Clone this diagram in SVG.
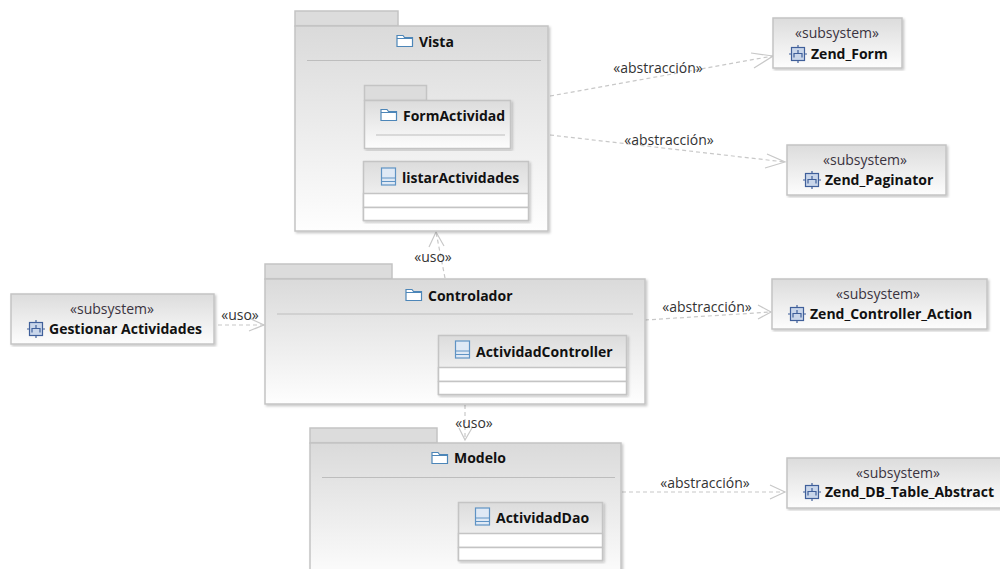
<svg xmlns="http://www.w3.org/2000/svg" width="1000" height="569" viewBox="0 0 1000 569">
<style>
text{font-family:"Open Sans","Noto Sans","Liberation Sans",sans-serif;fill:#111;}
.t{font-size:14px;font-weight:700;text-anchor:start;}
.s{font-size:14px;text-anchor:middle;fill:#3a3340;}
.e{font-size:14px;text-anchor:middle;fill:#333;}
.box{stroke:#c4c4c4;stroke-width:1.5;fill:url(#g);filter:url(#sh);}
.pk{stroke:#c4c4c4;stroke-width:1.5;fill:url(#gp);filter:url(#sh);}
.tab{stroke:#c4c4c4;stroke-width:1.5;fill:#dcdcdc;}
.cell{stroke:#c4c4c4;stroke-width:1.5;fill:#fff;}
.rule{stroke:#bdbdbd;stroke-width:1.2;fill:none;}
.dep{stroke:#c8c8c8;stroke-width:1.2;stroke-dasharray:4 3;fill:none;}
.ah{stroke:#c8c8c8;stroke-width:1.2;fill:none;}
</style>
<defs>
<linearGradient id="g" x1="0" y1="0" x2="0" y2="1"><stop offset="0" stop-color="#dcdcdc"/><stop offset="1" stop-color="#fdfdfd"/></linearGradient>
<linearGradient id="gp" x1="0" y1="0" x2="0" y2="1"><stop offset="0" stop-color="#dadada"/><stop offset="1" stop-color="#fefefe"/></linearGradient>
<filter id="sh" x="-5%" y="-5%" width="110%" height="110%"><feDropShadow dx="1.5" dy="1.5" stdDeviation="0.8" flood-color="#000" flood-opacity="0.22"/></filter>
<symbol id="folder" width="18" height="14" viewBox="0 0 18 14" overflow="visible"><path d="M1 12.500V1.500H7L8.500 3.500H16.500V12.500Z" fill="#fff" stroke="#4d86b8" stroke-width="1.200"/><path d="M1 4.500H16.500" stroke="#4d86b8" stroke-width="1"/></symbol>
<symbol id="cls" width="18" height="20" viewBox="0 0 18 20"><rect x="1.500" y="1" width="14" height="17" fill="#dfe9f5" stroke="#5f93c4" stroke-width="1.200"/><path d="M1.500 11H15.500M1.500 14.500H15.500" stroke="#5f93c4"/></symbol>
<symbol id="sub" width="18" height="18" viewBox="0 0 18 18"><rect x="2.500" y="2.500" width="13" height="13" fill="#c9d6ea" stroke="#3f5f9a" stroke-width="1.200"/><path d="M9 0V2.500M9 15.500V18M0 9H2.500M15.500 9H18" stroke="#3f5f9a" stroke-width="1.200"/><path d="M5 12.500V8.500H13V12.500M9 8.500V5" fill="none" stroke="#3f5f9a" stroke-width="1.200"/></symbol>
</defs>

<g id="connectors">
<path class="dep" d="M550 96L773 56"/><path class="ah" d="M751 53L773 56L754 68"/>
<path class="dep" d="M550 135L785 162"/><path class="ah" d="M767 154L785 162L765 168"/>
<path class="dep" d="M445 278L436 232"/><path class="ah" d="M429 247L436 232L444 246"/>
<path class="dep" d="M218 325L264 325"/><path class="ah" d="M249 318L264 325L249 331"/>
<path class="dep" d="M645 320L771 312"/><path class="ah" d="M758 305L771 312L758 319"/>
<path class="dep" d="M465 405L465 440"/><path class="ah" d="M459 428L465 440L472 428"/>
<path class="dep" d="M622 492L785 492"/><path class="ah" d="M770 485L785 492L770 499"/>
<text class="e" x="658" y="73">«abstracción»</text>
<text class="e" x="669" y="145">«abstracción»</text>
<text class="e" x="433" y="262">«uso»</text>
<text class="e" x="240" y="320">«uso»</text>
<text class="e" x="707" y="312">«abstracción»</text>
<text class="e" x="474" y="428">«uso»</text>
<text class="e" x="705" y="488">«abstracción»</text>
</g>

<g id="vista">
<rect class="tab" x="295" y="11" width="103" height="15"/>
<rect class="pk" x="295" y="26" width="253" height="205"/>
<line class="rule" x1="307" y1="60.500" x2="541" y2="60.500"/>
<use href="#folder" x="396" y="34"/><text class="t" x="419" y="47">Vista</text>
</g>
<g id="formActividad">
<rect class="tab" x="364.500" y="85.500" width="62" height="15"/>
<rect class="box" x="364.500" y="100.500" width="146" height="48"/>
<line class="rule" x1="376" y1="135" x2="505" y2="135"/>
<use href="#folder" x="380" y="108"/><text class="t" x="403" y="121">FormActividad</text>
</g>
<g id="listarActividades">
<rect class="box" x="363.500" y="161.500" width="165" height="59"/>
<rect class="cell" x="363.500" y="193.500" width="165" height="14"/>
<rect class="cell" x="363.500" y="207.500" width="165" height="13"/>
<use href="#cls" x="380" y="167"/><text class="t" x="402" y="183">listarActividades</text>
</g>

<g id="controlador">
<rect class="tab" x="265" y="264" width="127" height="15"/>
<rect class="pk" x="265" y="279" width="380" height="125"/>
<line class="rule" x1="277" y1="314" x2="633" y2="314"/>
<use href="#folder" x="405" y="288"/><text class="t" x="428" y="301">Controlador</text>
</g>
<g id="actividadController">
<rect class="box" x="438.500" y="335.500" width="188" height="59"/>
<rect class="cell" x="438.500" y="367.500" width="188" height="14"/>
<rect class="cell" x="438.500" y="381.500" width="188" height="13"/>
<use href="#cls" x="454" y="340"/><text class="t" x="476" y="357">ActividadController</text>
</g>

<g id="modelo">
<rect class="tab" x="310" y="428" width="127" height="15"/>
<rect class="pk" x="310" y="443" width="311" height="140"/>
<line class="rule" x1="322" y1="477.500" x2="615" y2="477.500"/>
<use href="#folder" x="431" y="451"/><text class="t" x="454" y="463">Modelo</text>
</g>
<g id="actividadDao">
<rect class="box" x="458.500" y="502.500" width="144" height="58"/>
<rect class="cell" x="458.500" y="533.500" width="144" height="14"/>
<rect class="cell" x="458.500" y="547.500" width="144" height="13"/>
<use href="#cls" x="474" y="507"/><text class="t" x="496" y="523">ActividadDao</text>
</g>

<g id="gestionarActividades">
<rect class="box" x="11" y="294" width="203" height="50"/>
<text class="s" x="112" y="314">«subsystem»</text>
<use href="#sub" x="27" y="320"/><text class="t" x="49" y="334">Gestionar Actividades</text>
</g>
<g id="zendForm">
<rect class="box" x="773" y="18" width="129" height="50"/>
<text class="s" x="837" y="38">«subsystem»</text>
<use href="#sub" x="789" y="45"/><text class="t" x="811" y="59">Zend_Form</text>
</g>
<g id="zendPaginator">
<rect class="box" x="787" y="145" width="159" height="50"/>
<text class="s" x="865" y="165">«subsystem»</text>
<use href="#sub" x="803" y="171"/><text class="t" x="825" y="185">Zend_Paginator</text>
</g>
<g id="zendControllerAction">
<rect class="box" x="772" y="279" width="215" height="50"/>
<text class="s" x="878" y="299">«subsystem»</text>
<use href="#sub" x="788" y="305"/><text class="t" x="810" y="319">Zend_Controller_Action</text>
</g>
<g id="zendDbTableAbstract">
<rect class="box" x="787" y="458" width="216" height="50"/>
<text class="s" x="898" y="478">«subsystem»</text>
<use href="#sub" x="803" y="483"/><text class="t" x="825" y="497">Zend_DB_Table_Abstract</text>
</g>
</svg>
